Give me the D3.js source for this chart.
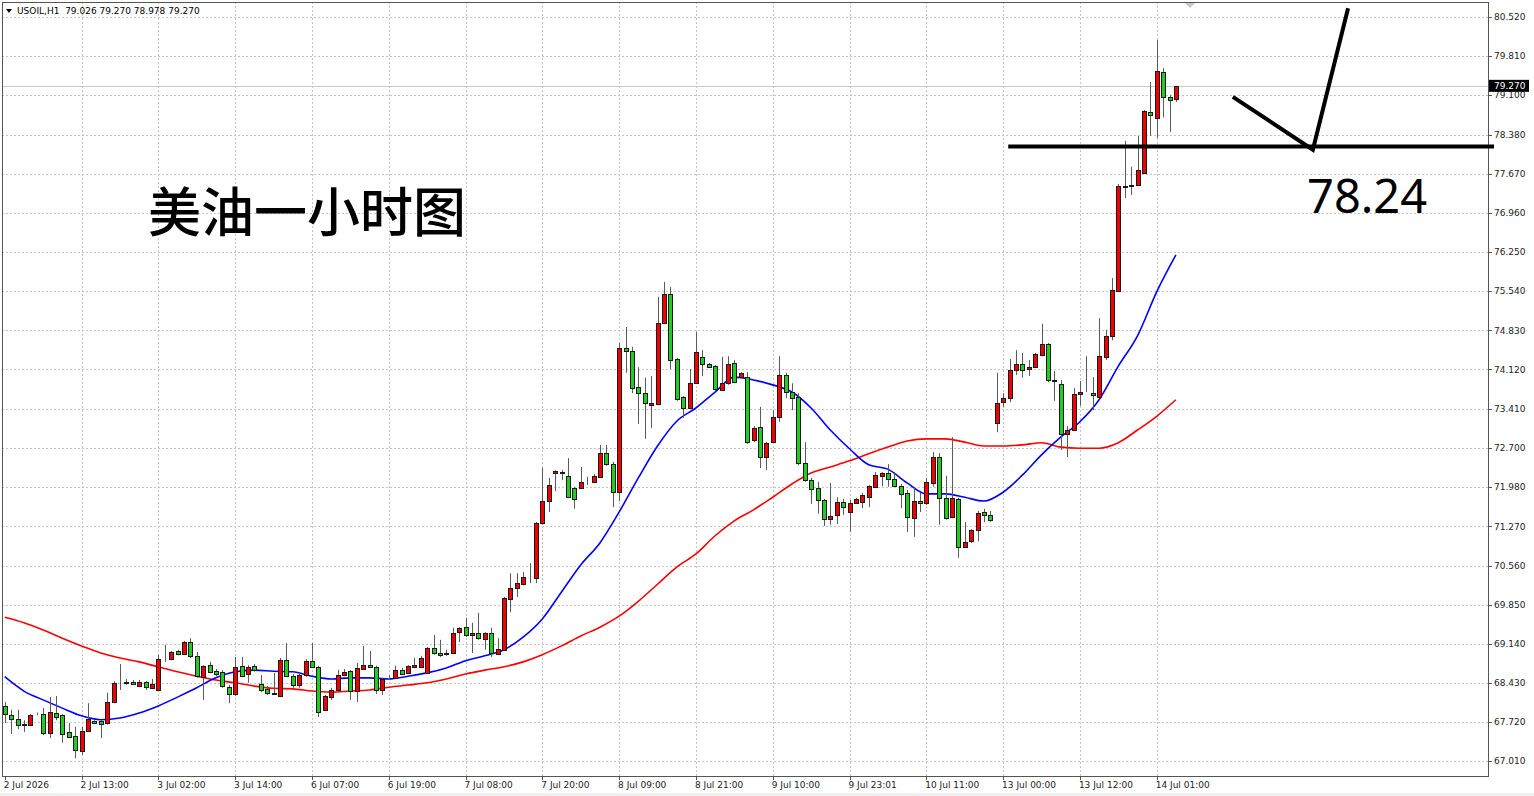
<!DOCTYPE html>
<html>
<head>
<meta charset="utf-8">
<script src="https://cdn.jsdelivr.net/npm/d3@7"></script>
<style>
body { margin: 0; background: #fff; }
svg { display: block; }
</style>
</head>
<body>
<div class="chart"></div>
<script>
// USOIL H1 candles (red = up, green = down)
var opens = [68.01,67.85,67.78,67.68,67.67,67.86,67.86,67.52,67.88,67.85,67.54,67.46,67.19,67.56,67.74,67.74,67.70,68.08,68.43,68.43,
  68.44,68.37,68.44,68.33,68.30,68.86,68.86,69.01,68.95,69.17,68.92,68.54,68.75,68.64,68.63,68.35,68.23,68.74,68.59,68.74,
  68.41,68.32,68.24,68.19,68.84,68.55,68.39,68.57,68.83,68.72,67.94,68.17,68.30,68.57,68.64,68.28,68.68,68.75,68.72,68.30,
  68.51,68.52,68.66,68.61,68.72,68.72,68.61,69.06,68.97,68.96,68.97,69.35,69.44,69.30,69.34,69.23,69.34,68.95,69.03,69.95,
  70.15,70.22,70.34,70.33,71.33,71.73,72.24,72.24,72.19,71.97,71.97,72.09,72.08,72.17,72.60,72.40,71.89,74.51,74.46,73.80,
  73.69,73.48,73.49,74.96,75.49,74.31,73.62,73.42,73.87,74.35,74.22,74.18,73.75,73.87,74.24,73.98,73.98,72.84,73.08,72.53,
  72.80,73.26,74.02,73.71,73.62,72.42,72.11,71.97,71.75,71.41,71.48,71.71,71.53,71.69,71.71,71.80,71.99,72.19,72.24,72.13,
  72.00,71.88,71.42,71.73,71.69,72.06,72.53,71.79,71.44,71.77,70.90,71.00,71.20,71.53,71.48,73.15,73.53,73.60,74.11,74.22,
  74.13,74.16,74.38,74.58,73.92,73.86,72.95,73.02,73.67,73.73,73.69,73.62,74.35,74.73,75.55,77.45,77.46,77.47,77.69,78.80,
  78.69,79.52,79.07,79.026];
var highs = [68.08,67.94,67.94,67.75,67.86,67.89,67.97,68.17,68.19,67.86,67.70,67.63,67.63,68.06,67.75,67.75,68.25,68.46,68.77,68.50,
  68.48,68.48,68.46,68.50,68.94,69.12,69.01,69.03,69.19,69.24,68.99,68.75,68.81,68.68,68.66,68.39,68.90,68.90,68.75,68.77,
  68.57,68.37,68.61,68.88,69.15,68.59,68.61,68.86,69.15,68.74,68.21,68.34,68.66,68.68,68.66,68.79,69.10,69.01,68.74,68.52,
  68.57,68.74,68.70,68.75,68.88,68.92,69.08,69.30,69.21,69.03,69.43,69.44,69.61,69.52,69.70,69.35,69.43,69.24,69.99,70.42,
  70.42,70.44,70.60,71.35,72.33,72.15,72.29,72.29,72.51,71.99,72.35,72.17,72.22,72.75,72.75,72.44,74.60,74.89,74.53,74.16,
  73.97,74.00,75.44,75.71,75.62,74.33,73.64,74.13,74.80,74.47,74.24,74.20,74.35,74.36,74.29,74.07,74.07,73.09,73.44,72.80,
  73.38,74.36,74.06,73.87,73.69,72.80,72.15,72.08,71.77,72.06,71.80,71.77,71.75,71.79,71.88,72.02,72.26,72.26,72.40,72.26,
  72.04,71.93,71.99,71.88,72.15,72.62,72.60,72.19,72.89,71.79,71.35,71.22,71.55,71.59,71.55,74.06,73.69,74.31,74.47,74.42,
  74.29,74.42,74.95,74.60,74.09,73.93,73.09,73.78,73.91,74.36,73.98,75.05,74.84,75.78,77.49,78.27,77.80,78.36,78.83,79.34,
  80.10,79.59,79.10,79.270];
var lows = [67.70,67.50,67.59,67.54,67.66,67.84,67.48,67.43,67.75,67.34,67.43,67.06,67.12,67.56,67.68,67.43,67.67,68.06,68.30,68.39,
  68.39,68.35,68.30,68.32,68.28,68.81,68.84,68.93,68.95,68.88,68.52,68.12,68.61,68.55,68.34,68.06,68.19,68.54,68.43,68.63,
  68.26,68.21,68.21,68.17,68.54,68.34,68.34,68.54,68.70,67.81,67.92,68.12,68.26,68.55,68.12,68.08,68.66,68.70,68.23,68.21,
  68.48,68.50,68.57,68.59,68.72,68.70,68.59,68.94,68.90,68.92,68.96,69.17,69.26,68.97,69.21,69.03,68.90,68.94,69.01,69.71,
  69.99,70.20,70.24,70.24,71.30,71.53,71.91,72.11,71.80,71.59,71.95,72.02,72.06,72.17,72.37,71.62,71.73,74.06,73.69,73.13,
  72.86,73.06,73.48,74.96,74.13,73.55,73.24,73.40,73.86,74.00,74.15,73.73,73.73,73.84,73.87,73.96,72.77,72.80,72.33,72.29,
  72.79,73.17,73.60,73.38,72.38,72.08,71.68,71.50,71.28,71.30,71.31,71.48,71.17,71.68,71.60,71.62,71.99,72.00,71.99,71.99,
  71.60,71.17,71.08,71.53,71.66,71.99,71.30,71.39,71.42,70.70,70.88,70.97,71.00,71.35,71.35,72.98,73.44,73.53,74.02,73.97,
  74.00,74.15,74.36,73.89,73.55,72.66,72.53,73.00,73.46,73.71,73.38,73.60,74.29,74.65,75.53,77.23,77.29,77.45,77.69,78.36,
  78.32,78.70,78.43,78.978];
var closes = [67.86,67.78,67.67,67.66,67.85,67.87,67.52,67.90,67.80,67.50,67.45,67.21,67.56,67.78,67.70,67.68,68.08,68.43,68.42,68.44,
  68.41,68.44,68.35,68.41,68.86,68.87,68.99,68.95,69.17,68.92,68.55,68.74,68.63,68.59,68.37,68.23,68.72,68.55,68.72,68.66,
  68.30,68.25,68.23,68.84,68.55,68.39,68.57,68.83,68.72,67.90,68.19,68.30,68.57,68.63,68.28,68.70,68.75,68.72,68.30,68.50,
  68.52,68.66,68.59,68.74,68.75,68.88,69.06,68.97,68.94,68.97,69.34,69.43,69.30,69.34,69.24,69.34,68.97,69.04,69.97,70.15,
  70.24,70.35,70.33,71.33,71.73,72.02,72.28,72.25,71.80,71.77,72.08,72.10,72.19,72.60,72.40,71.89,74.51,74.46,73.78,73.69,
  73.51,73.51,74.96,75.49,74.29,73.58,73.42,73.87,74.44,74.22,74.16,73.77,73.87,74.22,73.89,74.06,72.80,73.06,72.53,72.79,
  73.26,74.02,73.71,73.60,72.42,72.11,71.95,71.75,71.41,71.46,71.71,71.62,71.69,71.77,71.84,72.00,72.20,72.24,72.13,72.00,
  71.86,71.44,71.73,71.69,72.08,72.53,71.79,71.42,71.79,70.90,70.99,71.20,71.51,71.48,71.39,73.51,73.60,74.11,74.22,74.11,
  74.16,74.40,74.58,73.93,73.91,72.95,73.02,73.67,73.71,73.73,73.66,74.36,74.73,75.56,77.45,77.44,77.47,77.74,78.81,78.74,
  79.54,79.07,79.01,79.270];

// moving averages, sampled every 3 bars
var maStep = 3;
var maBlue = [68.54,68.28,68.12,67.97,67.83,67.76,67.79,67.88,68.01,68.17,
  68.34,68.52,68.63,68.66,68.64,68.63,68.55,68.50,68.52,68.52,
  68.50,68.55,68.61,68.70,68.83,68.92,69.03,69.26,69.59,70.08,
  70.57,70.97,71.53,72.15,72.73,73.18,73.42,73.71,73.98,73.93,
  73.84,73.71,73.42,73.02,72.68,72.39,72.31,72.06,71.86,71.86,
  71.80,71.73,71.89,72.20,72.57,72.89,73.17,73.57,74.18,74.73,
  75.53,76.20];
var maRed = [69.62,69.52,69.39,69.24,69.10,68.97,68.88,68.81,68.72,68.63,
  68.55,68.48,68.43,68.37,68.33,68.32,68.28,68.26,68.28,68.30,
  68.35,68.39,68.43,68.50,68.59,68.66,68.72,68.81,68.94,69.10,
  69.28,69.44,69.64,69.91,70.22,70.53,70.77,71.10,71.37,71.57,
  71.80,72.04,72.24,72.35,72.46,72.59,72.71,72.82,72.86,72.86,
  72.80,72.73,72.73,72.75,72.79,72.71,72.69,72.69,72.79,73.02,
  73.27,73.57];

var priceTicks = ["80.520","79.810","79.100","78.380","77.670","76.960","76.250","75.540","74.830","74.120",
  "73.410","72.700","71.980","71.270","70.560","69.850","69.140","68.430","67.720","67.010"];
var timeLabels = ["2 Jul 2026","2 Jul 13:00","3 Jul 02:00","3 Jul 14:00","6 Jul 07:00","6 Jul 19:00","7 Jul 08:00",
  "7 Jul 20:00","8 Jul 09:00","8 Jul 21:00","9 Jul 10:00","9 Jul 23:01","10 Jul 11:00","13 Jul 00:00","13 Jul 12:00","14 Jul 01:00"];
var timeLabelStep = 12;

var symbol = "USOIL,H1";
var lastBar = ["79.026", "79.270", "78.978", "79.270"];
var bidPrice = 79.270;

// hand-drawn annotation: level line and check mark (bar index, price)
var levelLine = { from: 156.8, to: 232.7, price: 78.17 };
var checkMark = [[191.9, 79.07], [204.4, 78.11], [209.9, 80.68]];
var titleText = "美油一小时图";
var levelText = "78.24";

var width = 1534, height = 796;
var plot = { left: 2, top: 2, right: 1488, bottom: 776 };
var axisFont = "DejaVu Sans";

var x = d3.scaleLinear().domain([0, 183]).range([4.7, 4.7 + 183 * 6.4]);
var y = d3.scaleLinear().domain([67.01, 80.52]).range([761, 17]);

var svg = d3.select(".chart")
    .append("svg")
    .attr("width", width)
    .attr("height", height)
    .style("font-family", axisFont);

svg.append("rect").attr("width", width).attr("height", height).attr("fill", "#fff");
svg.append("rect").attr("x", 0).attr("y", 793).attr("width", width).attr("height", 3).attr("fill", "#f0f0f0");

// grid
svg.append("g").selectAll("line")
    .data(priceTicks)
    .enter().append("line")
    .attr("x1", plot.left).attr("x2", plot.right)
    .attr("y1", d => Math.round(y(+d)) + 0.5).attr("y2", d => Math.round(y(+d)) + 0.5)
    .attr("stroke", "#c4c4c4")
    .attr("stroke-dasharray", "2,2");

svg.append("g").selectAll("line")
    .data(timeLabels.slice(1))
    .enter().append("line")
    .attr("x1", (d, i) => Math.round(x((i + 1) * timeLabelStep)) + 0.5)
    .attr("x2", (d, i) => Math.round(x((i + 1) * timeLabelStep)) + 0.5)
    .attr("y1", plot.top).attr("y2", plot.bottom)
    .attr("stroke", "#c4c4c4")
    .attr("stroke-dasharray", "2,2");

// bid line
svg.append("line")
    .attr("x1", plot.left).attr("x2", plot.right)
    .attr("y1", Math.round(y(bidPrice)) + 0.5).attr("y2", Math.round(y(bidPrice)) + 0.5)
    .attr("stroke", "#c8c8c8");

// moving averages
var maLine = d3.line()
    .x((d, i) => x(i * maStep))
    .y(d => y(d))
    .curve(d3.curveMonotoneX);

svg.append("path").datum(maRed)
    .attr("d", maLine).attr("fill", "none")
    .attr("stroke", "#ff0000").attr("stroke-width", 1.6);
svg.append("path").datum(maBlue)
    .attr("d", maLine).attr("fill", "none")
    .attr("stroke", "#0000ff").attr("stroke-width", 1.6);

// candles
var bars = svg.append("g").selectAll("g")
    .data(opens)
    .enter().append("g");

bars.append("line")
    .attr("x1", (d, i) => Math.round(x(i)) + 0.5)
    .attr("x2", (d, i) => Math.round(x(i)) + 0.5)
    .attr("y1", (d, i) => y(highs[i]))
    .attr("y2", (d, i) => y(lows[i]))
    .attr("stroke", "#5a5a5a");

bars.append("rect")
    .attr("x", (d, i) => Math.round(x(i)) - 1.5)
    .attr("width", 4)
    .attr("y", (d, i) => Math.round(y(Math.max(d, closes[i]))) + 0.5)
    .attr("height", (d, i) => Math.max(0, Math.round(y(Math.min(d, closes[i]))) - Math.round(y(Math.max(d, closes[i])))))
    .attr("fill", (d, i) => closes[i] >= d ? "#f00000" : "#22cc22")
    .attr("stroke", "#1a1a1a")
    .attr("stroke-width", 1);

// frame
svg.append("rect")
    .attr("x", plot.left + 0.5).attr("y", plot.top + 0.5)
    .attr("width", plot.right - plot.left).attr("height", plot.bottom - plot.top)
    .attr("fill", "none").attr("stroke", "#555");

// price axis
svg.append("g").selectAll("line")
    .data(priceTicks)
    .enter().append("line")
    .attr("x1", plot.right).attr("x2", plot.right + 4)
    .attr("y1", d => Math.round(y(+d)) + 0.5).attr("y2", d => Math.round(y(+d)) + 0.5)
    .attr("stroke", "#555");

svg.append("g").selectAll("text")
    .data(priceTicks)
    .enter().append("text")
    .text(d => d)
    .attr("x", plot.right + 6)
    .attr("y", d => y(+d))
    .attr("dy", "0.35em")
    .attr("font-size", "9px")
    .attr("fill", "#222");

svg.append("rect")
    .attr("x", plot.right + 1).attr("y", y(bidPrice) - 6)
    .attr("width", 40).attr("height", 12)
    .attr("fill", "#000");
svg.append("text")
    .text(bidPrice.toFixed(3))
    .attr("x", plot.right + 6).attr("y", y(bidPrice))
    .attr("dy", "0.35em")
    .attr("font-size", "9px")
    .attr("fill", "#fff");

// time axis
svg.append("g").selectAll("line")
    .data(timeLabels)
    .enter().append("line")
    .attr("x1", (d, i) => Math.round(x(i * timeLabelStep)) + 0.5)
    .attr("x2", (d, i) => Math.round(x(i * timeLabelStep)) + 0.5)
    .attr("y1", plot.bottom).attr("y2", plot.bottom + 4)
    .attr("stroke", "#555");

svg.append("g").selectAll("text")
    .data(timeLabels)
    .enter().append("text")
    .text(d => d)
    .attr("x", (d, i) => x(i * timeLabelStep) - 1)
    .attr("y", plot.bottom + 9)
    .attr("dy", "0.35em")
    .attr("font-size", "9px")
    .attr("fill", "#222");

// header
svg.append("path")
    .attr("d", "M6,9 L12,9 L9,13 Z")
    .attr("fill", "#000");
svg.append("text")
    .text(symbol + "  " + lastBar.join(" "))
    .attr("x", 17).attr("y", 11)
    .attr("dy", "0.35em")
    .attr("font-size", "9px")
    .attr("xml:space", "preserve")
    .style("white-space", "pre")
    .attr("fill", "#000");

// chart shift marker
var sx = Math.round(x(185.2));
svg.append("path")
    .attr("d", "M" + (sx - 5) + ",3 L" + (sx + 5) + ",3 L" + sx + ",8 Z")
    .attr("fill", "#c8c8c8");

// annotations
svg.append("line")
    .attr("x1", x(levelLine.from)).attr("x2", x(levelLine.to))
    .attr("y1", y(levelLine.price)).attr("y2", y(levelLine.price))
    .attr("stroke", "#000").attr("stroke-width", 4);

svg.append("path")
    .datum(checkMark)
    .attr("d", d3.line().x(d => x(d[0])).y(d => y(d[1])))
    .attr("fill", "none")
    .attr("stroke", "#000").attr("stroke-width", 4)
    .attr("stroke-linejoin", "miter");

svg.append("text")
    .text(titleText)
    .attr("x", 148).attr("y", 232)
    .attr("font-family", "Noto Sans CJK SC")
    .attr("font-size", "53px")
    .attr("font-weight", 500)
    .attr("fill", "#000");

svg.append("text")
    .text(levelText)
    .attr("x", 1307).attr("y", 213)
    .attr("font-family", "Noto Sans")
    .attr("font-size", "47px")
    .attr("fill", "#000");
</script>
</body>
</html>
